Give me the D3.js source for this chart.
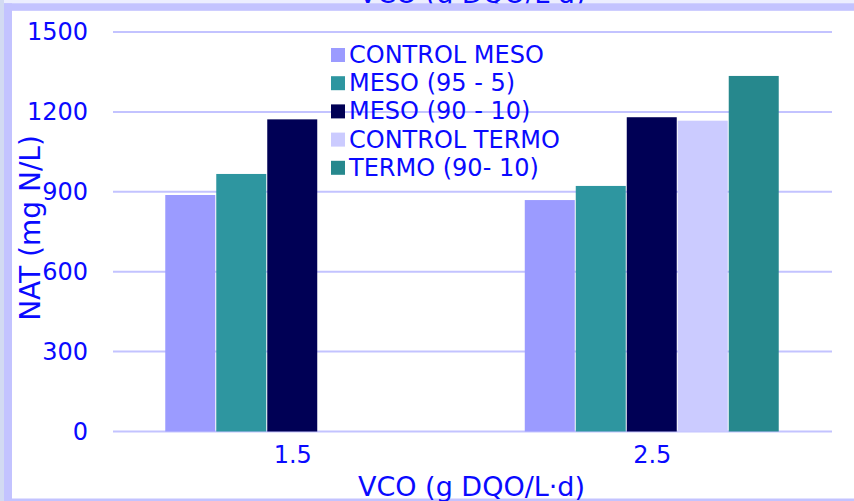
<!DOCTYPE html>
<html>
<head>
<meta charset="utf-8">
<script src="https://cdn.jsdelivr.net/npm/d3@7"></script>
<style>
  html, body { margin: 0; padding: 0; background: #ffffff; }
  svg { display: block; }
  text { font-family: "DejaVu Sans", Verdana, sans-serif; fill: #0a0aff; }
</style>
</head>
<body>
<svg id="chart" width="854" height="501"></svg>
<script>
// ---- data ----
const categories = ["1.5", "2.5"];
const seriesNames = ["CONTROL MESO", "MESO (95 - 5)", "MESO (90 - 10)", "CONTROL TERMO", "TERMO (90- 10)"];
const controlMeso = [888, 869];
const meso95_5 = [967, 922];
const meso90_10 = [1172, 1180];
const controlTermo = [null, 1167];
const termo90_10 = [null, 1335];
const yTicks = [0, 300, 600, 900, 1200, 1500];
const xTitle = "VCO (g DQO/L·d)";
const yTitle = "NAT (mg N/L)";

const seriesValues = [controlMeso, meso95_5, meso90_10, controlTermo, termo90_10];
const colors = ["#9b9bff", "#2e96a0", "#000055", "#cbcbff", "#26888d"];

const W = 854, H = 501;
const plot = { left: 113, right: 832, top: 32, bottom: 431.5 };

const svg = d3.select("#chart");
svg.append("rect").attr("x", 0).attr("y", 0).attr("width", W).attr("height", H).attr("fill", "#ffffff");

// cut-off title at very top
svg.append("rect").attr("x", 0).attr("y", 0).attr("width", W).attr("height", 4).attr("fill", "#eceeff");
svg.append("text").attr("x", 472).attr("y", 2.5).attr("text-anchor", "middle")
  .style("font-size", "27px").text(xTitle);
// frame bands
svg.append("rect").attr("x", 0).attr("y", 3.3).attr("width", W).attr("height", 7.5).attr("fill", "#c3c3ff");
svg.append("rect").attr("x", 0).attr("y", 0).attr("width", 4).attr("height", H).attr("fill", "#d2daf2");
svg.append("rect").attr("x", 4).attr("y", 3.3).attr("width", 8).attr("height", H).attr("fill", "#c3c3ff");
svg.append("rect").attr("x", 12).attr("y", 498.5).attr("width", W - 12).attr("height", 2.5).attr("fill", "#c3c3ff");

// scales
const y = d3.scaleLinear().domain([0, 1500]).range([plot.bottom, plot.top]);
const x0 = d3.scaleBand().domain(categories).range([plot.left, plot.right]).paddingInner(0).paddingOuter(0);
const x1 = d3.scaleBand().domain(d3.range(seriesNames.length)).range([0, x0.bandwidth()])
  .paddingInner(0).paddingOuter(1.025);

// gridlines
svg.append("g").selectAll("line").data(yTicks).join("line")
  .attr("x1", plot.left).attr("x2", plot.right)
  .attr("y1", d => y(d)).attr("y2", d => y(d))
  .attr("stroke", "#c3c3ff").attr("stroke-width", 2);

// y tick labels
const yAxis = d3.axisLeft(y).tickValues(yTicks).tickSize(0).tickPadding(0).tickFormat(d3.format("d"));
const gy = svg.append("g").attr("transform", `translate(88,0)`).call(yAxis);
gy.select(".domain").remove();
gy.selectAll("text").style("font-size", "24px").attr("fill", "#0a0aff").style("font-family", '"DejaVu Sans", Verdana, sans-serif');

// x tick labels
const xAxis = d3.axisBottom(x0).tickSize(0).tickPadding(0);
const gx = svg.append("g").attr("transform", `translate(0,${plot.bottom})`).call(xAxis);
gx.select(".domain").remove();
gx.selectAll("text").style("font-size", "24px").attr("fill", "#0a0aff")
  .style("font-family", '"DejaVu Sans", Verdana, sans-serif')
  .attr("dy", null).attr("y", 24.5).attr("dominant-baseline", "middle");

// bars
const barData = [];
categories.forEach((c, ci) => {
  seriesValues.forEach((vals, si) => {
    if (vals[ci] != null) barData.push({ c, si, v: vals[ci] });
  });
});
svg.append("g").selectAll("rect").data(barData).join("rect")
  .attr("x", d => x0(d.c) + x1(d.si))
  .attr("width", x1.bandwidth() - 1)
  .attr("y", d => y(d.v))
  .attr("height", d => y(0) - y(d.v))
  .attr("fill", d => colors[d.si]);

// legend
const lg = svg.append("g");
seriesNames.forEach((name, i) => {
  const cy = 55 + i * 28.2;
  lg.append("rect").attr("x", 331).attr("y", cy - 7).attr("width", 14).attr("height", 14).attr("fill", colors[i]);
  lg.append("text").attr("x", 349).attr("y", cy).attr("dominant-baseline", "central")
    .style("font-size", "24px").text(name);
});

// axis titles
svg.append("text").attr("x", (plot.left + plot.right) / 2 - 1).attr("y", 486)
  .attr("text-anchor", "middle").attr("dominant-baseline", "central")
  .style("font-size", "27px").text(xTitle);
svg.append("text").attr("transform", "translate(30,228) rotate(-90)")
  .attr("text-anchor", "middle").attr("dominant-baseline", "central")
  .style("font-size", "28px").text(yTitle);
</script>
</body>
</html>
